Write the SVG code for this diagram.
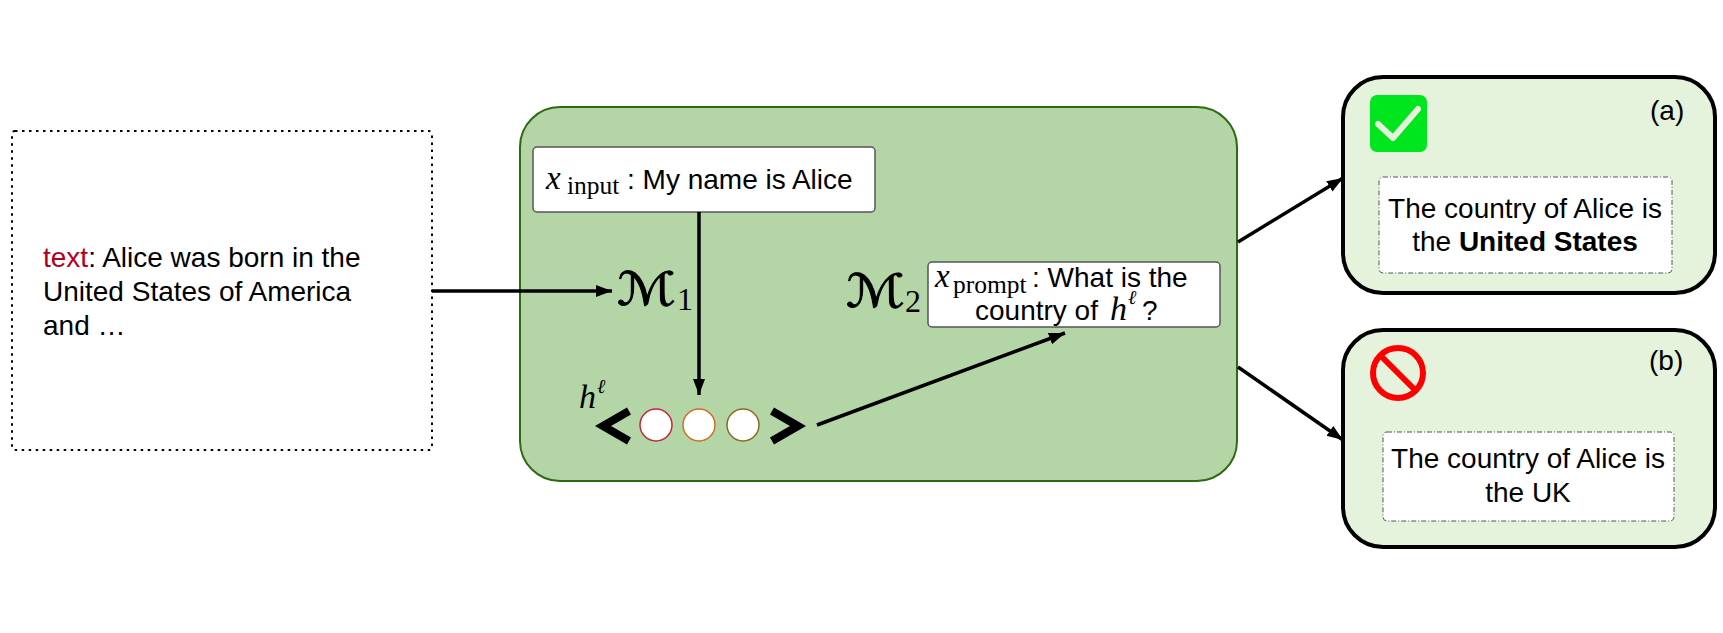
<svg xmlns="http://www.w3.org/2000/svg" width="1723" height="633" viewBox="0 0 1723 633">
<style>
.sans{font-family:"Liberation Sans",Arial,sans-serif;font-size:28px;fill:#000}
.it{font-family:"Liberation Serif","DejaVu Serif",serif;font-style:italic;fill:#000}
.rm{font-family:"Liberation Serif","DejaVu Serif",serif;fill:#000}
.cal{font-family:"DejaVu Serif","DejaVu Sans",serif;fill:#000;stroke:#000;stroke-width:0.9}
.conn{stroke:#000;stroke-width:3.5;fill:none}
.tbox{fill:#fff;stroke:#555;stroke-width:1.5}
.obox{fill:#e6f3dc;stroke:#000;stroke-width:4}
.dbox{fill:#fff;stroke:#555;stroke-width:1;stroke-dasharray:5 2 1 2}
</style>
<defs>
<marker id="ah" markerUnits="userSpaceOnUse" markerWidth="18" markerHeight="14" refX="16" refY="6" orient="auto">
<path d="M0,0 L16,6 L0,12 z" fill="#000"/>
</marker>
</defs>
<rect width="1723" height="633" fill="#fff"/>

<g id="source">
<rect x="12" y="131" width="420" height="319" rx="3" fill="none" stroke="#000" stroke-width="2" stroke-dasharray="2.5 4.5"/>
<text class="sans" x="43" y="267"><tspan fill="#b0001e">text</tspan>: Alice was born in the</text>
<text class="sans" x="43" y="301">United States of America</text>
<text class="sans" x="43" y="335">and …</text>
</g>

<g id="model">
<rect x="520" y="107" width="717" height="374" rx="40" fill="#b4d5a6" stroke="#2f6a12" stroke-width="2"/>
</g>

<g id="input">
<rect class="tbox" x="533" y="147" width="342" height="65" rx="4"/>
<text class="it" x="546" y="189" font-size="33">x</text>
<text class="rm" x="567" y="194" font-size="25.5">input</text>
<text class="sans" x="627" y="189">: My name is Alice</text>
</g>

<g id="m1">
<text class="cal" transform="translate(617,305) scale(1.2,1)" font-size="46">ℳ</text>
<text class="rm" x="677" y="310" font-size="32">1</text>
</g>

<g id="m2">
<text class="cal" transform="translate(846,307) scale(1.2,1)" font-size="46">ℳ</text>
<text class="rm" x="905" y="312" font-size="32">2</text>
</g>

<g id="prompt">
<rect class="tbox" x="928" y="262" width="292" height="65" rx="4"/>
<text class="it" x="935" y="287" font-size="33">x</text>
<text class="rm" x="953" y="293" font-size="25.5">prompt</text>
<text class="sans" x="1032" y="287">: What is the</text>
<text class="sans" x="975" y="320">country of</text>
<text class="it" x="1110" y="320" font-size="34">h</text>
<text class="it" x="1128" y="304" font-size="20">ℓ</text>
<text class="sans" x="1142" y="320">?</text>
</g>

<g id="hidden">
<text class="it" x="579" y="408" font-size="34">h</text>
<text class="it" x="597" y="393" font-size="20">ℓ</text>
<polyline points="629,411 603,426 629,441" fill="none" stroke="#000" stroke-width="8" stroke-linejoin="miter"/>
<circle cx="656" cy="425" r="16" fill="#fff" stroke="#c4253c" stroke-width="1.5"/>
<circle cx="699" cy="425" r="16" fill="#fff" stroke="#cf6f22" stroke-width="1.5"/>
<circle cx="743" cy="425" r="16" fill="#fff" stroke="#8a6a22" stroke-width="1.5"/>
<polyline points="772,411 798,426 772,441" fill="none" stroke="#000" stroke-width="8" stroke-linejoin="miter"/>
</g>

<g id="out-a">
<rect class="obox" x="1343" y="77" width="372" height="216" rx="40"/>
<rect x="1370" y="95" width="57" height="57" rx="7" fill="#00e61e"/>
<polyline points="1378,124 1393,138 1418,109" fill="none" stroke="#e6f3dc" stroke-width="6" stroke-linecap="round" stroke-linejoin="round"/>
<text class="sans" x="1650" y="120" font-size="24">(a)</text>
<rect class="dbox" x="1379" y="177" width="293" height="96" rx="4"/>
<text class="sans" x="1525" y="218" text-anchor="middle">The country of Alice is</text>
<text class="sans" x="1525" y="251" text-anchor="middle">the <tspan font-weight="bold">United States</tspan></text>
</g>

<g id="out-b">
<rect class="obox" x="1343" y="330" width="372" height="217" rx="40"/>
<circle cx="1398" cy="373" r="25" fill="none" stroke="#ff0000" stroke-width="6"/>
<line x1="1381" y1="356" x2="1415" y2="390" stroke="#ff0000" stroke-width="6"/>
<text class="sans" x="1649" y="370" font-size="24">(b)</text>
<rect class="dbox" x="1383" y="432" width="291" height="89" rx="4"/>
<text class="sans" x="1528" y="468" text-anchor="middle">The country of Alice is</text>
<text class="sans" x="1528" y="502" text-anchor="middle">the UK</text>
</g>

<g id="connectors">
<line class="conn" x1="432" y1="291" x2="612" y2="291" marker-end="url(#ah)"/>
<line class="conn" x1="699" y1="212" x2="699" y2="395" marker-end="url(#ah)"/>
<line class="conn" x1="817" y1="425" x2="1065" y2="333" marker-end="url(#ah)"/>
<line class="conn" x1="1238" y1="242" x2="1343" y2="178" marker-end="url(#ah)"/>
<line class="conn" x1="1238" y1="367" x2="1343" y2="440" marker-end="url(#ah)"/>
</g>
</svg>
